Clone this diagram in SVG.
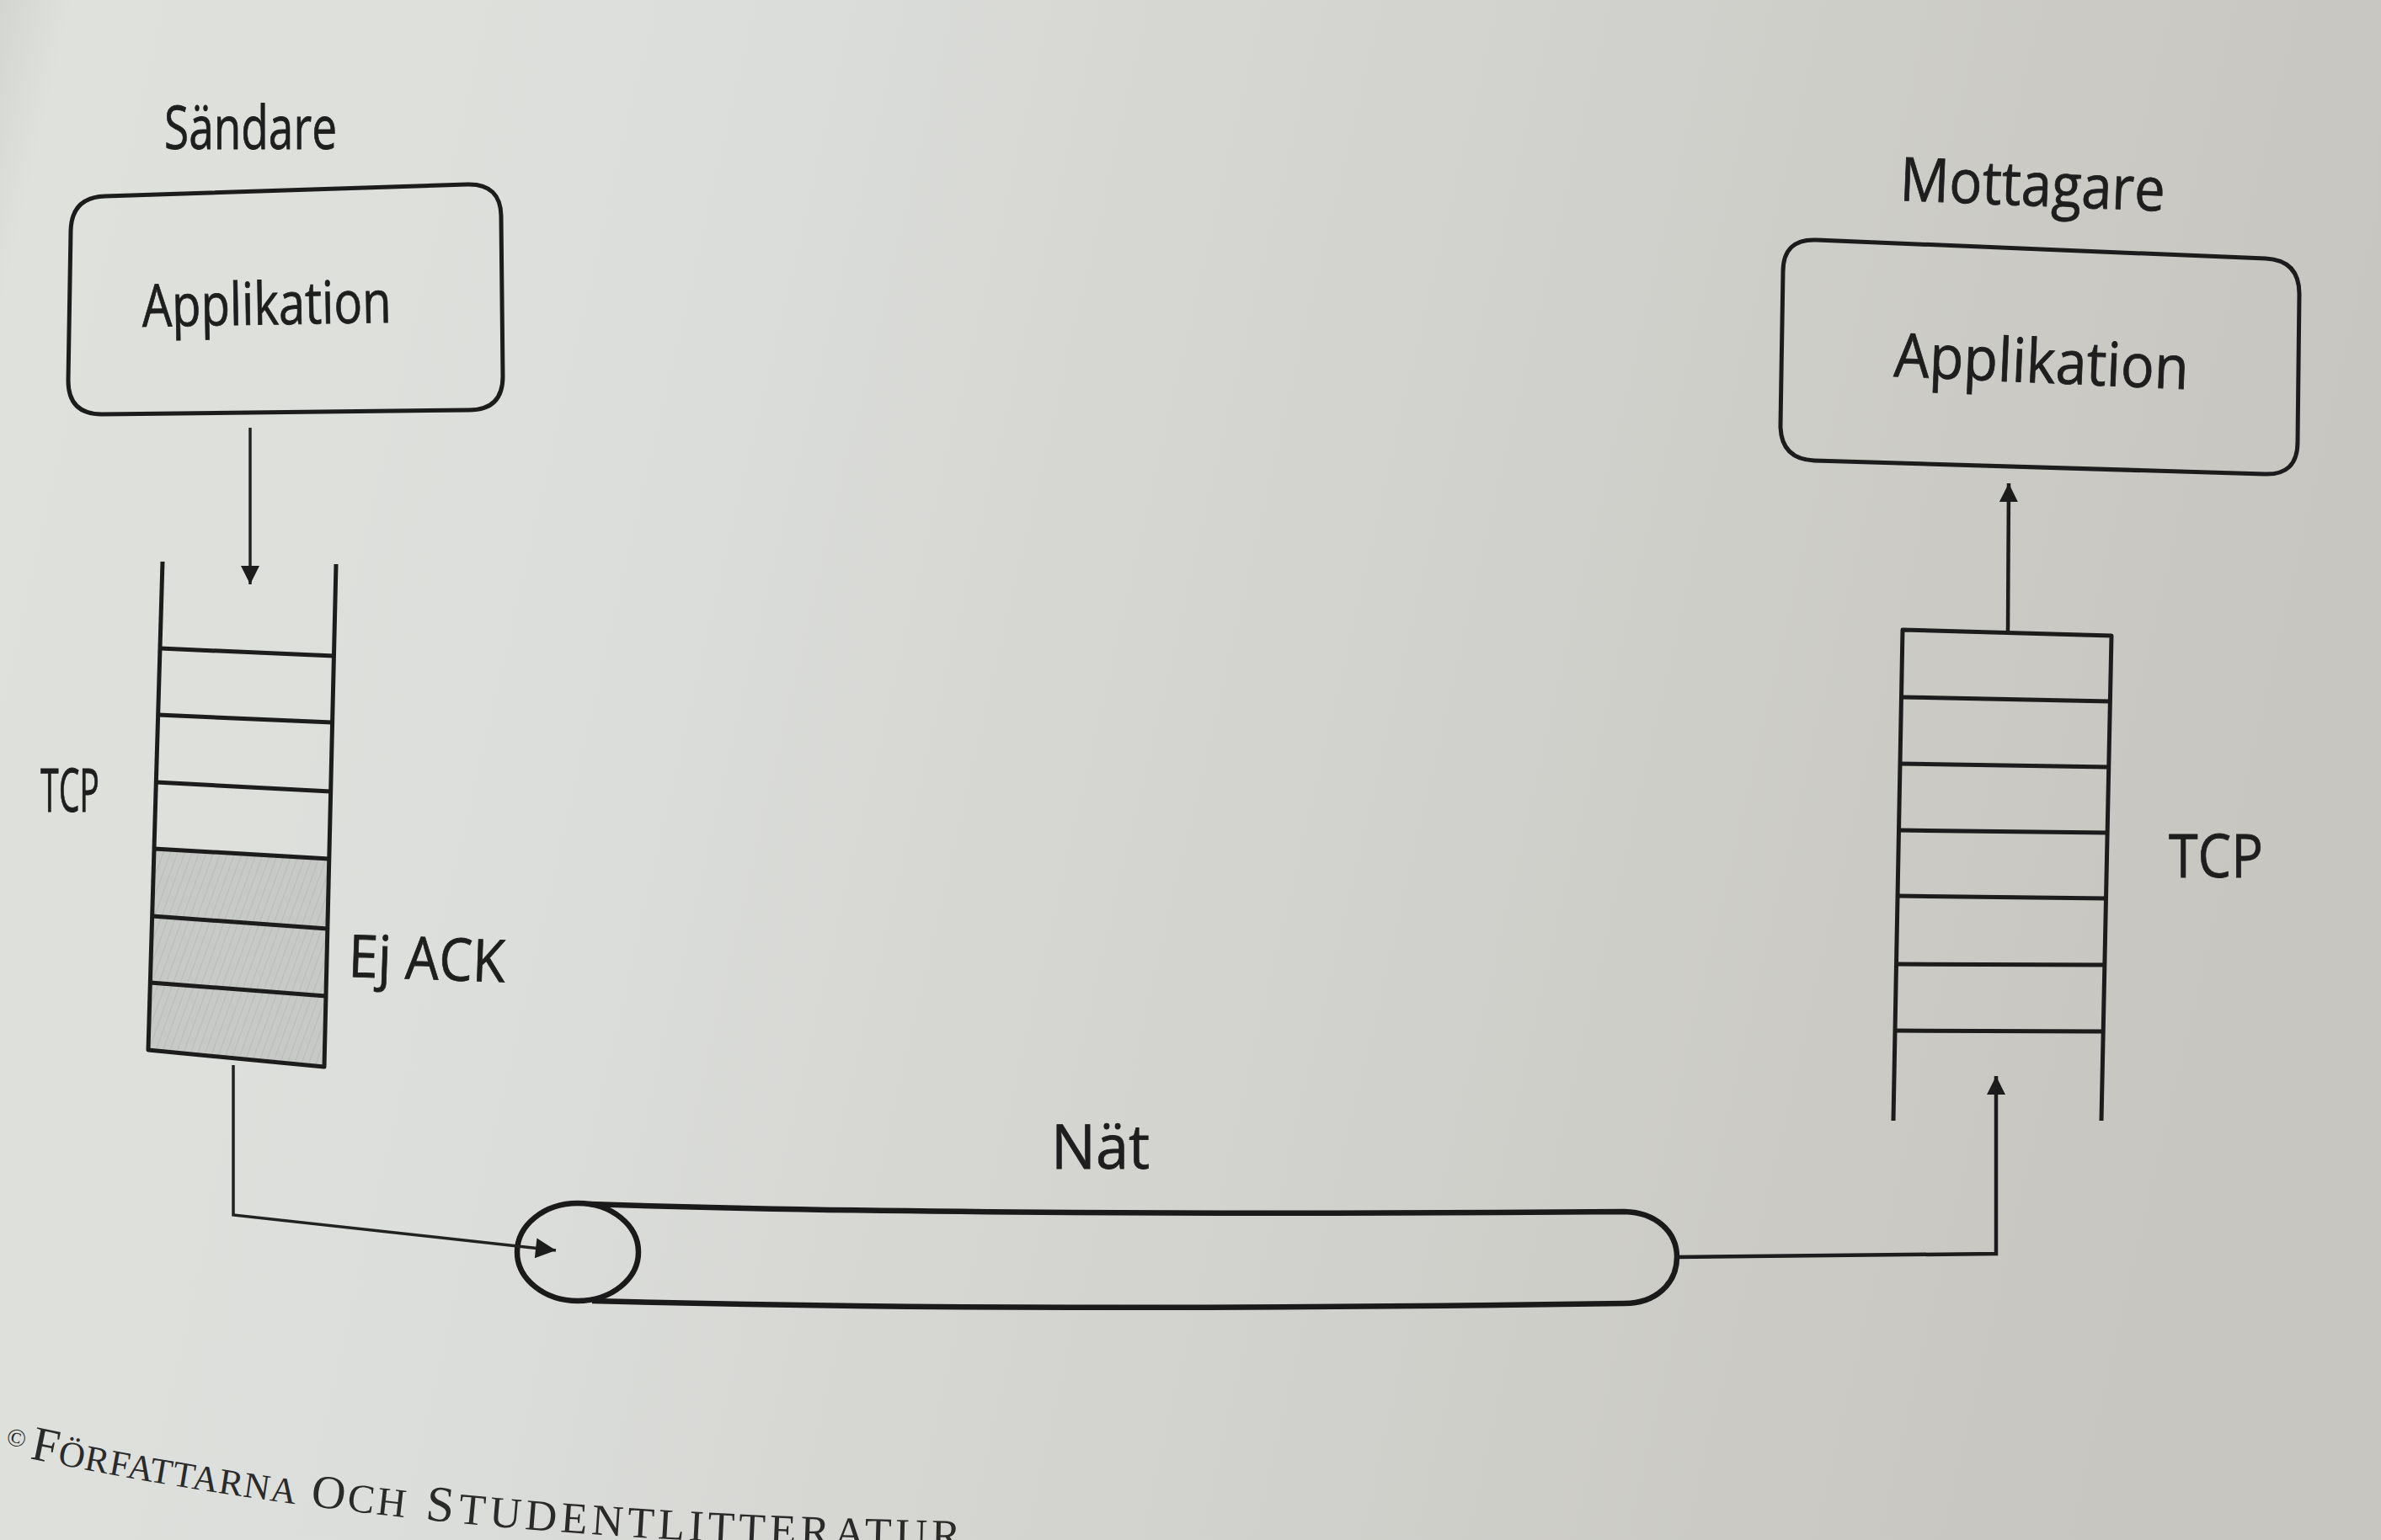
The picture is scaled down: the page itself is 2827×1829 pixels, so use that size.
<svg xmlns="http://www.w3.org/2000/svg" width="2827" height="1829" viewBox="0 0 2827 1829">
<defs>
<linearGradient id="bg" x1="0" y1="0" x2="1" y2="0.15">
<stop offset="0" stop-color="#d3d5d1"/>
<stop offset="0.03" stop-color="#dfe1dd"/>
<stop offset="0.3" stop-color="#dcdedb"/>
<stop offset="0.65" stop-color="#d1d1cd"/>
<stop offset="1" stop-color="#c7c6c1"/>
</linearGradient>
<pattern id="hatch" width="8" height="8" patternUnits="userSpaceOnUse" patternTransform="rotate(20)">
<rect width="8" height="8" fill="#c7c9c6"/>
<line x1="0" y1="0" x2="0" y2="8" stroke="#b9bbb8" stroke-width="2"/>
</pattern>
<marker id="arr" viewBox="0 0 10 10" refX="10" refY="5" markerWidth="30" markerHeight="24" markerUnits="userSpaceOnUse" orient="auto">
<path d="M0,0 L10,5 L0,10 Z" fill="#1c1c1c"/>
</marker>
<marker id="arrS" viewBox="0 0 10 10" refX="10" refY="5" markerWidth="28" markerHeight="22" markerUnits="userSpaceOnUse" orient="auto">
<path d="M0,0 L10,5 L0,10 Z" fill="#1c1c1c"/>
</marker>
<path id="footpath" d="M2,1724 L35,1732 C425,1814 810,1836 1200,1842 L1600,1848"/>
</defs>
<style>
.ln{fill:none;stroke:#1c1c1c;stroke-width:5;stroke-linejoin:round}
.tube{fill:none;stroke:#1a1a1a;stroke-width:6.5}
.conn{fill:none;stroke:#222;stroke-width:3.5}
.conn2{fill:none;stroke:#1c1c1c;stroke-width:4.5}
.lbl{font-family:"Open Sans","Noto Sans",sans-serif;fill:#1e1e1e;stroke:#1e1e1e;stroke-width:0.8}
.foot{font-family:"Liberation Serif",serif;fill:#2a2a2a}
</style>
<rect width="2827" height="1829" fill="url(#bg)"/>

<g id="sender-label">
<text class="lbl" x="195" y="177" font-size="72" textLength="205" lengthAdjust="spacingAndGlyphs">Sändare</text>
</g>
<g id="sender-app">
<path class="ln" d="M125,233 L555,219 Q595,218 595,258 L597,447 Q597,487 557,487 L121,492 Q81,492 81,452 L84,274 Q85,234 125,233 Z"/>
<text class="lbl" x="169" y="388" font-size="70" textLength="296" lengthAdjust="spacingAndGlyphs" transform="rotate(-1 169 388)">Applikation</text>
</g>
<g id="sender-tcp">
<path d="M183,1008 L390.8,1020 L385,1267 L176,1247 Z" fill="url(#hatch)"/>
<path class="ln" d="M193,667 L176,1247 L385,1267 L399,670"/>
<path class="ln" d="M190,770 L396.4,779 M187.7,849 L394.6,858 M185.3,929 L392.7,940 M183,1008 L390.8,1020 M180.7,1088 L388.8,1103 M178.3,1167 L387,1183"/>
<text class="lbl" x="48" y="964" font-size="72" textLength="70" lengthAdjust="spacingAndGlyphs">TCP</text>
<text class="lbl" x="413" y="1160" font-size="70" textLength="186" lengthAdjust="spacingAndGlyphs" transform="rotate(2 413 1160)">Ej ACK</text>
</g>
<g id="network">
<ellipse class="tube" cx="686" cy="1487" rx="72" ry="58"/>
<path class="tube" d="M700,1430 C1000,1440 1400,1443 1929,1439 C1965,1440 1991,1462 1991,1493 C1991,1525 1965,1548 1929,1548 C1400,1556 1000,1553 703,1545"/>
<text class="lbl" x="1248" y="1388" font-size="74" textLength="117" lengthAdjust="spacingAndGlyphs">Nät</text>
</g>
<g id="receiver-label">
<text class="lbl" x="2255" y="238" font-size="72" textLength="315" lengthAdjust="spacingAndGlyphs" transform="rotate(2.3 2255 238)">Mottagare</text>
</g>
<g id="receiver-app">
<path class="ln" d="M2157,285 L2690,307 Q2730,309 2730,349 L2728,525 Q2728,565 2688,563 L2154,547 Q2114,545 2114,505 L2117,323 Q2117,283 2157,285 Z"/>
<text class="lbl" x="2248" y="447" font-size="72" textLength="350" lengthAdjust="spacingAndGlyphs" transform="rotate(2.5 2248 447)">Applikation</text>
</g>
<g id="receiver-tcp">
<path class="ln" d="M2248,1331 L2259,748 L2507,755 L2495,1331"/>
<path class="ln" d="M2257.5,828 L2505.4,833 M2256,907 L2503.8,911 M2254.5,986 L2502.1,989 M2253,1064 L2500.5,1067 M2251.5,1145 L2498.9,1146 M2250,1224 L2497.2,1225"/>
<text class="lbl" x="2575" y="1042" font-size="72" textLength="112" lengthAdjust="spacingAndGlyphs">TCP</text>
</g>
<g id="connectors">
<path class="conn" d="M297,508 L297,694" marker-end="url(#arrS)"/>
<path class="conn" d="M277,1265 L277,1443 L660,1485" marker-end="url(#arr)"/>
<path class="conn2" d="M1991,1493 L2370,1489 L2370,1278" marker-end="url(#arrS)"/>
<path class="conn2" d="M2384,750 L2385,574" marker-end="url(#arrS)"/>
</g>
<g id="footer">
<text class="foot"><textPath href="#footpath" startOffset="2"><tspan font-size="30" dy="-10" letter-spacing="9">©</tspan><tspan font-size="58" dy="10" letter-spacing="1">F</tspan><tspan font-size="43" letter-spacing="1">ÖRFATTARNA</tspan><tspan font-size="56" letter-spacing="3"> O</tspan><tspan font-size="48" letter-spacing="3">CH</tspan><tspan font-size="60" letter-spacing="6"> S</tspan><tspan font-size="52" letter-spacing="5">TUDENTLITTERATUR</tspan></textPath></text>
</g>
</svg>
